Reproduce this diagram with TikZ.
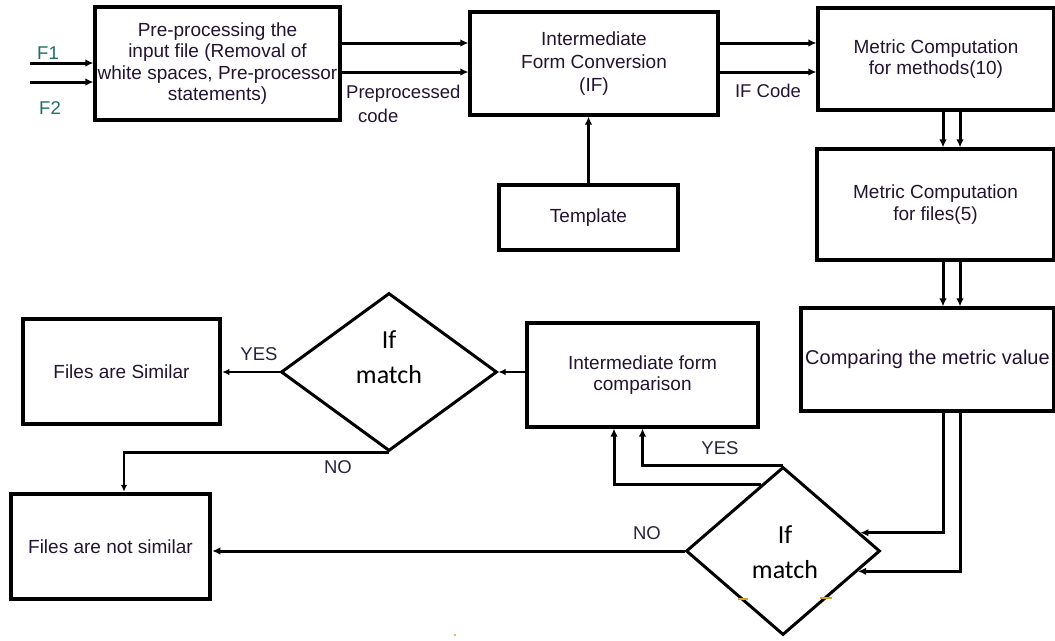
\documentclass[tikz,border=0pt]{standalone}
\usepackage{fontspec}
\setmainfont{Liberation Sans}
\newfontfamily\dfont{Carlito}
\usetikzlibrary{shapes.geometric,arrows.meta,calc}
\definecolor{txt}{RGB}{35,20,50}
\definecolor{fcol}{RGB}{30,110,100}
\definecolor{lbl}{RGB}{40,35,60}
\definecolor{markc}{RGB}{215,160,40}
\begin{document}
\begin{tikzpicture}[x=1pt,y=-1pt,
 box/.style={draw=black,line width=3.2pt,rectangle,inner sep=0pt,align=center,text=txt,font=\fontsize{19}{21.5}\selectfont},
 thickbox/.style={box,line width=4.5pt},
 dia/.style={draw=black,line width=3pt,diamond,inner sep=0pt},
 arr/.style={line width=3pt,-{Latex[length=8pt,width=7.5pt]}},
 thinarr/.style={line width=2.2pt,-{Latex[length=7pt,width=6.5pt]}},
 lab/.style={text=lbl,font=\fontsize{18.5}{24}\selectfont,inner sep=0pt},
 dtext/.style={font=\dfont\fontsize{26}{35}\selectfont,align=center,text=black,inner sep=0pt}
]
\fill[white] (0,0) rectangle (1055,640);
\path[use as bounding box] (0,0) rectangle (1055,640);

% boxes
\node[box,minimum width=245,minimum height=113] (b1) at (217.5,63.5) {Pre-processing the\\input file (Removal of\\white spaces, Pre-processor\\statements)};
\node[box,minimum width=248,minimum height=103,font=\fontsize{19}{23}\selectfont] (b2) at (594,63.5) {Intermediate\\Form Conversion\\(IF)};
\node[box,minimum width=179,minimum height=65] (tpl) at (588.5,217.5) {Template};
\node[box,minimum width=236,minimum height=102] (b3) at (936,59) {Metric Computation\\for methods(10)};
\node[box,minimum width=237,minimum height=111] (b4) at (935.5,204.5) {Metric Computation\\for files(5)};
\node[box,minimum width=253,minimum height=103,font=\fontsize{20}{22}\selectfont] (b5) at (927.5,359.5) {Comparing the metric value};
\node[box,minimum width=231,minimum height=104] (b6) at (642.5,375) {Intermediate form\\comparison};
\node[thickbox,minimum width=197,minimum height=105] (b7) at (121.5,371.5) {Files are Similar};
\node[thickbox,minimum width=199,minimum height=105] (b8) at (110.5,546.5) {Files are not similar};
\node[dia,minimum width=216,minimum height=158] (d1) at (389,372) {};
\node[dtext] (d1t) at (389,357) {If\\match};
\node[dia,minimum width=194,minimum height=168] (d2) at (783,551) {};
\node[dtext] (d2t) at (785,552) {If\\match};

% helper coordinates
\coordinate (f1) at (30,63);
\coordinate (f2) at (30,82);
\coordinate (ya) at (0,43);
\coordinate (yb) at (0,72);
\coordinate (xa) at (943,0);
\coordinate (xb) at (960,0);
\coordinate (xc) at (614,0);
\coordinate (xd) at (124,0);
\coordinate (e1) at ($(d2.east)!0.214!(d2.north)$);
\coordinate (e2) at ($(d2.east)!0.238!(d2.south)$);
\coordinate (e3) at ($(d2.north)!0.226!(d2.west)$);

% connectors
\draw[arr] (f1) -- (f1 -| b1.west);
\draw[arr] (f2) -- (f2 -| b1.west);
\draw[arr] (b1.east |- ya) -- (b2.west |- ya);
\draw[arr] (b1.east |- yb) -- (b2.west |- yb);
\draw[arr] (tpl.north) -- (tpl.north |- b2.south);
\draw[arr] (b2.east |- ya) -- (b3.west |- ya);
\draw[arr] (b2.east |- yb) -- (b3.west |- yb);
\draw[arr] (b3.south -| xa) -- (b4.north -| xa);
\draw[arr] (b3.south -| xb) -- (b4.north -| xb);
\draw[arr] (b4.south -| xa) -- (b5.north -| xa);
\draw[arr] (b4.south -| xb) -- (b5.north -| xb);
\draw[arr] (b5.south -| xa) |- (e1);
\draw[arr] (b5.south -| xb) |- (e2);
\draw[arr] (d2.north) -| (b6.south);
\draw[arr] (e3) -| (b6.south -| xc);
\draw[arr] (d2.west) -- (d2.west -| b8.east);
\draw[thinarr] (b6.west |- d1.east) -- (d1.east);
\draw[thinarr] (d1.west) -- (d1.west -| b7.east);
\draw[thinarr] (d1.south) -| (b8.north -| xd);

% labels
\node[lab,text=txt,align=left,anchor=west] (lpre) at (346,104) {Preprocessed\\\hspace*{12pt}code};
\node[lab,text=txt] (lif) at (768,91) {IF Code};
\node[lab] (ly1) at (259,354) {YES};
\node[lab] (ln1) at (338,467) {NO};
\node[lab] (ly2) at (720,448) {YES};
\node[lab] (ln2) at (647,533) {NO};
\node[lab,text=fcol] (lf1) at (48,53) {F1};
\node[lab,text=fcol] (lf2) at (50,108) {F2};

% small marks
\draw[markc,line width=1.5pt] (738,599) -- (748,599);
\draw[markc,line width=1.5pt] (820,598) -- (832,598);
\fill[markc] (455,635) circle (1.2);
\end{tikzpicture}
\end{document}
